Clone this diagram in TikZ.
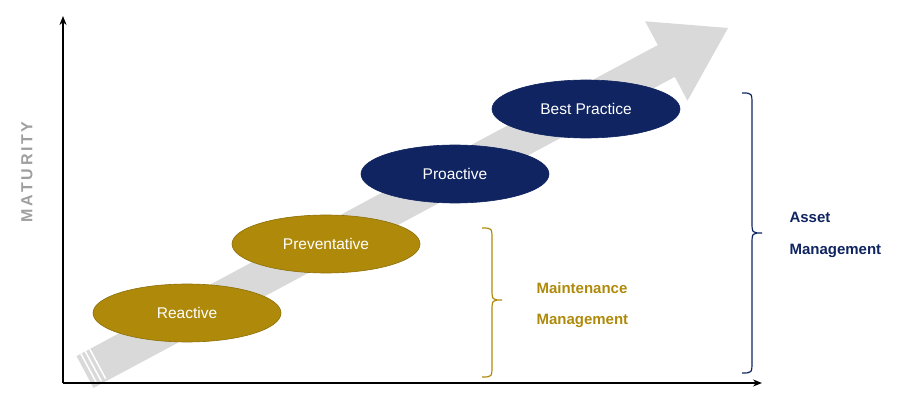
\documentclass[tikz,border=0pt]{standalone}
\usepackage{fontspec}
\setmainfont{Liberation Sans}
\usetikzlibrary{shapes.geometric,arrows.meta}
\definecolor{gold}{HTML}{AF8A0A}
\definecolor{navy}{HTML}{0F2460}
\definecolor{arrowgrey}{HTML}{D9D9D9}
\tikzset{
  stage/.style={ellipse,minimum width=188pt,minimum height=58pt,text=white,font=\fontsize{15.5}{18}\selectfont,inner sep=0pt},
  goldstage/.style={stage,fill=gold,draw=gold!80!black,line width=0.6pt},
  navystage/.style={stage,fill=navy,draw=navy,line width=0.6pt},
  axis/.style={line width=1.6pt,-{Stealth[length=9pt,width=7pt]}},
  bracelbl/.style={font=\fontsize{15}{18}\selectfont\bfseries,anchor=west,align=left}
}
\begin{document}
\begin{tikzpicture}[x=1pt,y=-1pt]
\useasboundingbox (0,0) rectangle (900,406);
% big arrow
\fill[arrowgrey] (76.5,356.1) -- (657.8,45.1) -- (645.1,21.3) -- (728,28) -- (687.5,100.7) -- (674.8,76.9) -- (93.5,387.9) -- cycle;
\foreach \k in {1,2,3}{
  \draw[white,line width=1.5pt] ({76.5+\k*5*0.882},{356.1-\k*5*0.472}) -- ++(15.9,29.7);
}
% axes
\coordinate (o) at (63,383);
\coordinate (ytop) at (63,16);
\coordinate (xend) at (762,383);
\draw[axis] (o) -- (ytop);
\draw[axis] (o) -- (xend);
\node[rotate=90,text=gray!75,font=\fontsize{16}{18}\selectfont\bfseries] (mat) at (27,172) {M\,A\,T\,U\,R\,I\,T\,Y};
% stages
\node[goldstage] (reactive) at (187,313) {Reactive};
\node[goldstage] (prevent) at (326,244) {Preventative};
\node[navystage] (proactive) at (455,174) {Proactive};
\node[navystage] (best) at (586,109) {Best Practice};
% braces
\draw[gold,line width=1.2pt] (482,228) .. controls (492,228) .. (492,240) -- (492,288) .. controls (492,300) .. (502,300) .. controls (492,300) .. (492,312) -- (492,365) .. controls (492,377) .. (482,377);
\draw[navy,line width=1.2pt] (742,93) .. controls (752,93) .. (752,105) -- (752,221) .. controls (752,233) .. (762,233) .. controls (752,233) .. (752,245) -- (752,361) .. controls (752,373) .. (742,373);
\node[bracelbl,text=gold] (mm1) at (533,288) {Maintenance};
\node[bracelbl,text=gold] (mm2) at (533,321) {Management};
\node[bracelbl,text=navy] (am1) at (786,217) {Asset};
\node[bracelbl,text=navy] (am2) at (786,251) {Management};
\end{tikzpicture}
\end{document}
